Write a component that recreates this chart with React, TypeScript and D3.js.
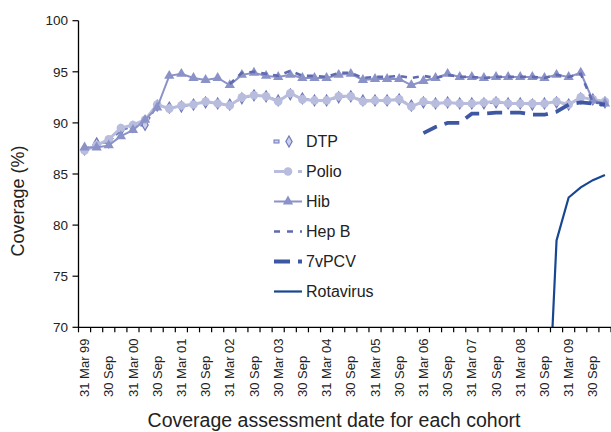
import React from 'react';
import * as d3 from 'd3';

// 44 quarterly cohorts, Mar 99 .. Dec 09
const quarters = [
  'Mar 99','Jun 99','Sep 99','Dec 99','Mar 00','Jun 00','Sep 00','Dec 00',
  'Mar 01','Jun 01','Sep 01','Dec 01','Mar 02','Jun 02','Sep 02','Dec 02',
  'Mar 03','Jun 03','Sep 03','Dec 03','Mar 04','Jun 04','Sep 04','Dec 04',
  'Mar 05','Jun 05','Sep 05','Dec 05','Mar 06','Jun 06','Sep 06','Dec 06',
  'Mar 07','Jun 07','Sep 07','Dec 07','Mar 08','Jun 08','Sep 08','Dec 08',
  'Mar 09','Jun 09','Sep 09','Dec 09'
];

// labels shown on every second quarter
const tickLabels = [
  '31 Mar 99','30 Sep','31 Mar 00','30 Sep','31 Mar 01','30 Sep','31 Mar 02','30 Sep',
  '30 Mar 03','30 Sep','31 Mar 04','30 Sep','31 Mar 05','30 Sep','31 Mar 06','30 Sep',
  '31 Mar 07','30 Sep','31 Mar 08','30 Sep','31 Mar 09','30 Sep'
];

const yTicks = [70, 75, 80, 85, 90, 95, 100];

const dtp: (number | null)[] = [
  87.4, 88.0, 88.1, 89.3, 89.6, 89.8, 91.7, 91.5, 91.6, 91.8, 92.0, 91.9,
  91.8, 92.4, 92.7, 92.6, 92.2, 92.8, 92.4, 92.2, 92.2, 92.5, 92.6, 92.2,
  92.2, 92.2, 92.3, 91.7, 92.0, 91.9, 92.0, 91.9, 91.9, 91.9, 92.0, 91.9,
  91.9, 91.8, 91.9, 92.0, 91.8, 92.4, 92.3, 92.0
];

const polio: (number | null)[] = [
  87.3, 87.8, 88.4, 89.5, 89.8, 90.3, 91.8, 91.4, 91.7, 91.8, 92.1, 91.9,
  91.7, 92.5, 92.7, 92.6, 92.1, 92.9, 92.3, 92.2, 92.2, 92.6, 92.6, 92.1,
  92.2, 92.2, 92.3, 91.6, 92.1, 91.9, 92.0, 91.9, 91.9, 92.0, 92.1, 91.9,
  91.9, 91.9, 91.9, 92.1, 91.8, 92.5, 92.3, 92.1
];

const hib: (number | null)[] = [
  87.6, 87.6, 87.8, 88.7, 89.3, 90.3, 91.5, 94.6, 94.8, 94.4, 94.2, 94.4,
  93.7, 94.7, 94.9, 94.6, 94.5, 94.7, 94.4, 94.4, 94.4, 94.7, 94.8, 94.2,
  94.3, 94.3, 94.3, 93.7, 94.1, 94.4, 94.8, 94.5, 94.5, 94.4, 94.5, 94.5,
  94.5, 94.5, 94.4, 94.7, 94.5, 94.9, 92.2, 91.9
];

const hepB: (number | null)[] = [
  null, null, null, null, null, null, null, null, null, null, null, null,
  93.8, 94.9, 95.0, 94.8, 94.6, 95.1, 94.6, 94.6, 94.5, 94.9, 94.9, 94.4,
  94.5, 94.5, 94.6, 94.4, 94.6, 94.4, 94.7, 94.5, 94.5, 94.4, 94.5, 94.5,
  94.5, 94.5, 94.4, 94.7, 94.5, 94.8, 92.0, 91.9
];

const pcv: (number | null)[] = [
  null, null, null, null, null, null, null, null, null, null, null, null,
  null, null, null, null, null, null, null, null, null, null, null, null,
  null, null, null, null, 89.0, 89.6, 90.0, 90.0, 90.9, 90.9, 91.0, 91.0,
  91.0, 90.8, 90.8, 91.1, 91.8, 92.0, 91.9, 91.8
];

const rotavirus: (number | null)[] = [
  null, null, null, null, null, null, null, null, null, null, null, null,
  null, null, null, null, null, null, null, null, null, null, null, null,
  null, null, null, null, null, null, null, null, null, null, null, null,
  null, null, 53.0, 78.5, 82.7, 83.7, 84.4, 84.9
];

const FONT = '"Liberation Sans", Arial, Helvetica, sans-serif';

const W = 611;
const H = 432;
const left = 78.5;
const right = 611;
const top = 20.7;
const bottom = 327.3;

export default function App() {
  const x = d3.scaleBand<number>().domain(quarters.map((_, i) => i)).range([left, right]).paddingInner(0).paddingOuter(0);
  const bw = x.bandwidth();
  const cx = (i: number) => (x(i) as number) + bw / 2;
  const y = d3.scaleLinear().domain([70, 100]).range([bottom, top]);

  const line = d3
    .line<number | null>()
    .defined((d) => d != null)
    .x((_, i) => cx(i))
    .y((d) => y(d as number));

  const diamond = d3.symbol().type(d3.symbolDiamond).size(34)()!;
  const triangle = d3.symbol().type(d3.symbolTriangle).size(46)()!;

  const colDTP = '#6f79b9';
  const colPolio = '#b8bcdd';
  const colHib = '#8a92c8';
  const colHepB = '#5f6aaf';
  const colPCV = '#3e57a2';
  const colRota = '#174790';

  const legendItems = [
    { name: 'DTP', kind: 'dtp' },
    { name: 'Polio', kind: 'polio' },
    { name: 'Hib', kind: 'hib' },
    { name: 'Hep B', kind: 'hepb' },
    { name: '7vPCV', kind: 'pcv' },
    { name: 'Rotavirus', kind: 'rota' },
  ];
  const lx0 = 274;
  const lx1 = 302;
  const ly0 = 141.5;
  const lstep = 30;

  const boundaries = d3.range(quarters.length + 1).map((i) => left + i * bw);

  return (
    <svg width={W} height={H} style={{ position: 'absolute', left: 0, top: 0, background: '#fff' }} fontFamily={FONT}>
      <defs>
        <clipPath id="plotClip">
          <rect x={left} y={0} width={right - left} height={bottom - 0} />
        </clipPath>
      </defs>

      {/* series */}
      <g clipPath="url(#plotClip)">
        <path d={line(dtp) || ''} fill="none" stroke={colDTP} strokeWidth={2} strokeDasharray="5,4" />
        {dtp.map((d, i) =>
          d == null ? null : (
            <path key={'dd' + i} d={diamond} transform={`translate(${cx(i)},${y(d)})`} fill="#cdd0ea" stroke={colDTP} strokeWidth={1.2} />
          )
        )}
        <path d={line(polio) || ''} fill="none" stroke={colPolio} strokeWidth={3} />
        {polio.map((d, i) =>
          d == null ? null : <circle key={'pc' + i} cx={cx(i)} cy={y(d)} r={4.3} fill={colPolio} />
        )}
        <path d={line(hib) || ''} fill="none" stroke={colHib} strokeWidth={2} />
        {hib.map((d, i) =>
          d == null ? null : (
            <path key={'ht' + i} d={triangle} transform={`translate(${cx(i)},${y(d)})`} fill={colHib} />
          )
        )}
        <path d={line(hepB) || ''} fill="none" stroke={colHepB} strokeWidth={2.6} strokeDasharray="6,6" />
        <path d={line(pcv) || ''} fill="none" stroke={colPCV} strokeWidth={3.8} strokeDasharray="15,8" />
        <path d={line(rotavirus) || ''} fill="none" stroke={colRota} strokeWidth={2.2} />
      </g>

      {/* y axis */}
      <line x1={left} x2={left} y1={top} y2={bottom} stroke="#000" strokeWidth={1.3} />
      {yTicks.map((t) => (
        <g key={'yt' + t}>
          <line x1={left - 6} x2={left} y1={y(t)} y2={y(t)} stroke="#000" strokeWidth={1.2} />
          <text x={68} y={y(t)} dy="0.35em" textAnchor="end" fontSize={13.5} fill="#222">
            {t}
          </text>
        </g>
      ))}

      {/* x axis */}
      <line x1={left - 0.5} x2={right} y1={bottom} y2={bottom} stroke="#000" strokeWidth={1.3} />
      {boundaries.map((bx, i) => (
        <line key={'xt' + i} x1={bx} x2={bx} y1={bottom} y2={bottom + 5} stroke="#000" strokeWidth={1.2} />
      ))}
      {tickLabels.map((lab, k) => {
        const px = cx(k * 2);
        return (
          <text
            key={'xl' + k}
            transform={`translate(${px},397) rotate(-90)`}
            dy="0.35em"
            textAnchor="start"
            fontSize={13}
            fill="#222"
          >
            {lab}
          </text>
        );
      })}

      {/* axis titles */}
      <text transform="translate(18,201) rotate(-90)" dy="0.35em" textAnchor="middle" fontSize={18} fill="#222">
        Coverage (%)
      </text>
      <text x={334} y={427} textAnchor="middle" fontSize={19.5} fill="#222">
        Coverage assessment date for each cohort
      </text>

      {/* legend */}
      {legendItems.map((it, k) => {
        const ly = ly0 + k * lstep;
        let sample: React.ReactNode = null;
        if (it.kind === 'dtp') {
          sample = (
            <g>
              <rect x={lx0} y={ly - 1.5} width={5} height={3} fill="#cdd0ea" stroke={colDTP} strokeWidth={1} />
              <path d={diamond} transform={`translate(${lx0 + 15},${ly})`} fill="#cdd0ea" stroke={colDTP} strokeWidth={1.2} />
            </g>
          );
        } else if (it.kind === 'polio') {
          sample = (
            <g>
              <line x1={lx0} x2={lx1} y1={ly} y2={ly} stroke={colPolio} strokeWidth={3} strokeDasharray="16,8" />
              <circle cx={lx0 + 14} cy={ly} r={4.3} fill={colPolio} />
            </g>
          );
        } else if (it.kind === 'hib') {
          sample = (
            <g>
              <line x1={lx0} x2={lx1} y1={ly} y2={ly} stroke={colHib} strokeWidth={2} />
              <path d={triangle} transform={`translate(${lx0 + 14},${ly})`} fill={colHib} />
            </g>
          );
        } else if (it.kind === 'hepb') {
          sample = <line x1={lx0} x2={lx1} y1={ly} y2={ly} stroke={colHepB} strokeWidth={2.6} strokeDasharray="6,7" />;
        } else if (it.kind === 'pcv') {
          sample = <line x1={lx0} x2={lx1} y1={ly} y2={ly} stroke={colPCV} strokeWidth={3.8} strokeDasharray="16,8" />;
        } else {
          sample = <line x1={lx0} x2={lx1} y1={ly} y2={ly} stroke={colRota} strokeWidth={2.2} />;
        }
        return (
          <g key={'lg' + k}>
            {sample}
            <text x={306} y={ly} dy="0.35em" fontSize={16} fill="#222">
              {it.name}
            </text>
          </g>
        );
      })}
    </svg>
  );
}
